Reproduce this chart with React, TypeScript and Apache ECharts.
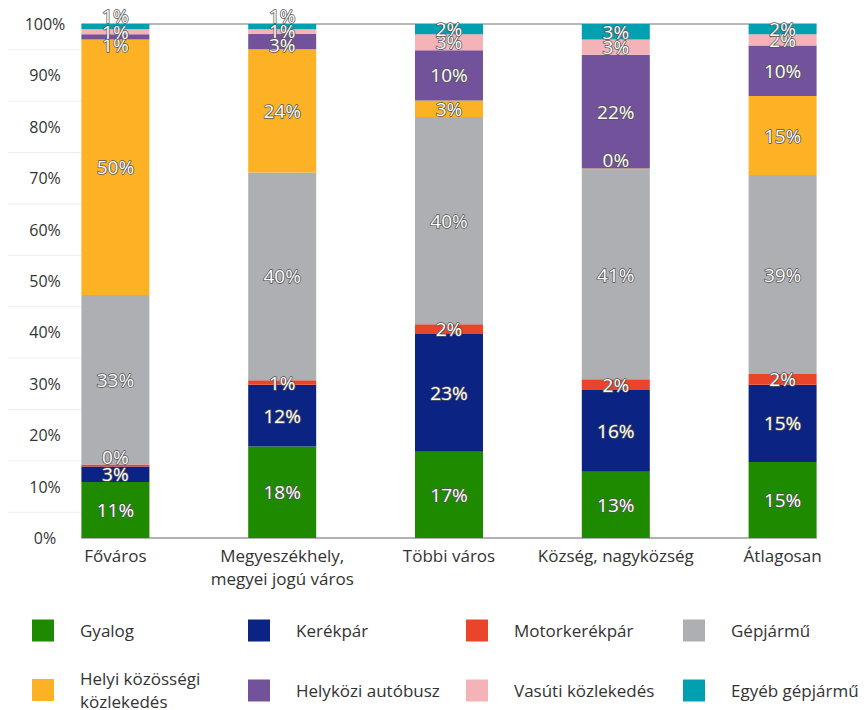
import React, { useEffect, useRef } from "react";
import * as echarts from "echarts";

const categories = ["Főváros", "Megyeszékhely,\nmegyei jogú város", "Többi város", "Község, nagyközség", "Átlagosan"];
const seriesNames = ["Gyalog", "Kerékpár", "Motorkerékpár", "Gépjármű", "Helyi közösségi közlekedés", "Helyközi autóbusz", "Vasúti közlekedés", "Egyéb gépjármű"];
const gyalog = [10.9, 17.8, 16.8, 12.9, 14.8];
const kerekpar = [3.0, 12.0, 22.9, 15.9, 15.0];
const motorkerekpar = [0.4, 0.9, 1.9, 2.1, 2.1];
const gepjarmu = [33.0, 40.4, 40.3, 40.7, 38.7];
const helyi = [49.7, 24.0, 3.2, 0.3, 15.4];
const helykozi = [1.0, 3.0, 9.8, 22.1, 9.8];
const vasuti = [1.0, 0.9, 3.1, 3.0, 2.2];
const egyeb = [1.0, 1.0, 2.0, 3.0, 2.0];
const faintTickValues = [5, 15, 25, 35, 45, 55, 65, 75, 85, 95];

const colors = ["#1e8a00", "#0b2382", "#e8452a", "#aeafb3", "#fdb124", "#73529c", "#f4b3b7", "#00a0b1"];
const FONT = "Open Sans";

// label nudges (series index -> category index -> [dx, dy]) to mimic the reference's de-overlapped labels
const labelNudge: Record<string, [number, number]> = {
  "7-0": [0, -11],
  "5-0": [0, 8],
  "7-1": [0, -11],
  "5-1": [0, 4],
  "2-0": [0, -9],
  "4-3": [0, -9],
};

export default function App() {
  const ref = useRef<HTMLDivElement>(null);
  useEffect(() => {
    document.body.style.margin = "0";
    const chart = echarts.init(ref.current!, null, { renderer: "svg" });
    const allData = [gyalog, kerekpar, motorkerekpar, gepjarmu, helyi, helykozi, vasuti, egyeb];
    const series = allData.map((d, i) => ({
      name: seriesNames[i],
      type: "bar",
      stack: "total",
      barWidth: 68,
      data: d.map((v, j) => {
        const nudge = labelNudge[i + "-" + j];
        return nudge ? { value: v, label: { offset: nudge } } : v;
      }),
      itemStyle: { color: colors[i] },
      label: {
        show: true,
        position: "inside",
        formatter: (p: any) => Math.round(p.value) + "%",
        color: "#fff",
        fontFamily: FONT,
        fontSize: 19,
        textBorderColor: "#555",
        textBorderWidth: 1.5,
      },
    }));
    const legendPos = [
      [32, 619], [248, 619], [466, 619], [683, 619],
      [32, 667], [248, 679], [466, 679], [683, 679],
    ];
    const legends = seriesNames.map((n, i) => ({
      show: true,
      data: [n],
      left: legendPos[i][0],
      top: legendPos[i][1],
      padding: 0,
      itemWidth: 22,
      itemHeight: 22,
      icon: "rect",
      selectedMode: false,
      formatter: (name: string) => (name === "Helyi közösségi közlekedés" ? "Helyi közösségi\nközlekedés" : name),
      textStyle: { fontFamily: FONT, fontSize: 17, color: "#333", padding: [0, 0, 0, 21], lineHeight: 23 },
    }));
    chart.setOption({
      animation: false,
      grid: { left: 32, top: 24, width: 850, height: 514 },
      xAxis: {
        type: "category",
        data: categories,
        axisLine: { show: false },
        axisTick: { show: false },
        axisLabel: { interval: 0, fontFamily: FONT, fontSize: 17, color: "#333", lineHeight: 23, margin: 6 },
      },
      yAxis: {
        type: "value",
        min: 0,
        max: 100,
        interval: 10,
        axisLine: { show: false },
        axisTick: { show: false },
        splitLine: { show: false },
        axisLabel: { formatter: "{value}%", fontFamily: FONT, fontSize: 16, color: "#333", align: "center", margin: -13 },
      },
      legend: legends,
      series,
    });
    const x0 = (chart.convertToPixel({ xAxisIndex: 0 }, 0) as number) - 34;
    const x1 = (chart.convertToPixel({ xAxisIndex: 0 }, categories.length - 1) as number) + 34;
    const yTop = chart.convertToPixel({ yAxisIndex: 0 }, 100) as number;
    const yBot = chart.convertToPixel({ yAxisIndex: 0 }, 0) as number;
    const graphics: any[] = faintTickValues.map((v) => {
      const y = chart.convertToPixel({ yAxisIndex: 0 }, v) as number;
      return { type: "line", shape: { x1: 8, y1: y, x2: x0, y2: y }, style: { stroke: "#eeeeee", lineWidth: 1 }, z: 0 };
    });
    graphics.push({ type: "line", shape: { x1: x0, y1: yTop, x2: x1, y2: yTop }, style: { stroke: "#a0a0a0", lineWidth: 1.5 }, z: 1 });
    graphics.push({ type: "line", shape: { x1: x0, y1: yBot, x2: x1, y2: yBot }, style: { stroke: "#999999", lineWidth: 1.5 }, z: 1 });
    chart.setOption({ graphic: graphics });
    return () => chart.dispose();
  }, []);
  return <div ref={ref} style={{ width: 866, height: 710 }} />;
}
